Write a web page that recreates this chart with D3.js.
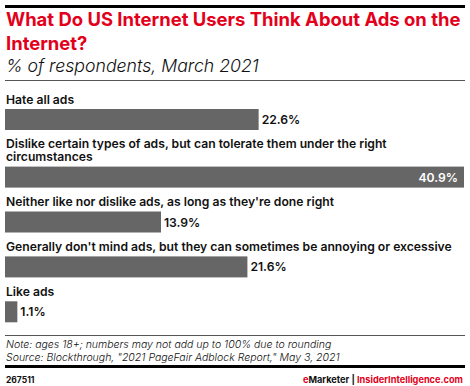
<!DOCTYPE html>
<html>
<head>
<meta charset="utf-8">
<script src="https://cdn.jsdelivr.net/npm/d3@7"></script>
<style>
  body { margin: 0; background: #fff; }
  svg { display: block; }
</style>
</head>
<body>
<div id="chart"></div>
<script>
// Data
const categories = [
    "Hate all ads",
    "Dislike certain types of ads, but can tolerate them under the right circumstances",
    "Neither like nor dislike ads, as long as they're done right",
    "Generally don't mind ads, but they can sometimes be annoying or excessive",
    "Like ads"
];
const values = [22.6, 40.9, 13.9, 21.6, 1.1];

const titleLines = ["What Do US Internet Users Think About Ads on the", "Internet?"];
const subtitle = "% of respondents, March 2021";
const notes = [
    "Note: ages 18+; numbers may not add up to 100% due to rounding",
    "Source: Blockthrough, \"2021 PageFair Adblock Report,\" May 3, 2021"
];
const chartId = "267511";

const W = 470, H = 386;
const FONT = "Inter, 'Noto Sans', sans-serif";
const RED = "#e3001b";
const LABEL_WEIGHT = 600;

const svg = d3.select("#chart").append("svg")
    .attr("width", W)
    .attr("height", H);

// pick a font size so a text string spans about the width seen in the picture
function fitSize(str, weight, style, base, target) {
    const t = svg.append("text")
        .attr("font-family", FONT)
        .attr("font-weight", weight)
        .attr("font-style", style)
        .attr("font-size", base)
        .text(str);
    const w = t.node().getComputedTextLength();
    t.remove();
    return base * target / w;
}

const titleSize = fitSize(titleLines[0], 700, "normal", 17, 455);
const subSize = fitSize(subtitle, 300, "italic", 16, 253);
const labelSize = fitSize(categories[3], LABEL_WEIGHT, "normal", 12, 446);
const noteSize = fitSize(notes[0], 300, "italic", 10, 326);

// top rule
svg.append("rect").attr("x", 5).attr("y", 5).attr("width", 460).attr("height", 3).attr("fill", "#000");

// title
svg.append("text")
    .attr("font-family", FONT)
    .attr("font-weight", 700)
    .attr("font-size", titleSize)
    .attr("fill", RED)
    .selectAll("tspan")
    .data(titleLines)
    .join("tspan")
    .attr("x", 6)
    .attr("y", (d, i) => 26 + i * 24)
    .text(d => d);

svg.append("text")
    .attr("x", 6).attr("y", 72)
    .attr("font-family", FONT)
    .attr("font-style", "italic")
    .attr("font-weight", 300)
    .attr("font-size", subSize)
    .attr("fill", "#111")
    .text(subtitle);

svg.append("line").attr("x1", 5).attr("x2", 465).attr("y1", 80.5).attr("y2", 80.5)
    .attr("stroke", "#555").attr("stroke-width", 1);

// bars
const x = d3.scaleLinear()
    .domain([0, d3.max(values)])
    .range([5, 464]);

const lineH = 12.7;
const wrapWidth = 455;

// measure text to wrap long labels
const measure = svg.append("text")
    .attr("font-family", FONT)
    .attr("font-weight", LABEL_WEIGHT)
    .attr("font-size", labelSize);

function wrap(str) {
    const words = str.split(" ");
    const lines = [];
    let cur = "";
    words.forEach(w => {
        const test = cur ? cur + " " + w : w;
        measure.text(test);
        if (measure.node().getComputedTextLength() > wrapWidth && cur) {
            lines.push(cur);
            cur = w;
        } else {
            cur = test;
        }
    });
    lines.push(cur);
    return lines;
}

const barH = 21;
let baseline = 103.5;
const rows = categories.map((c, i) => {
    const lines = wrap(c);
    const row = { name: c, value: values[i], lines: lines, y0: baseline };
    row.barY = baseline + (lines.length - 1) * lineH + 5.5;
    baseline = row.barY + barH + 18.4;
    return row;
});
measure.remove();

const rowG = svg.append("g").selectAll("g.row")
    .data(rows)
    .join("g")
    .attr("class", "row");

rowG.append("text")
    .attr("font-family", FONT)
    .attr("font-weight", LABEL_WEIGHT)
    .attr("font-size", labelSize)
    .attr("fill", "#111")
    .selectAll("tspan")
    .data(d => d.lines.map((l, i) => ({ text: l, y: d.y0 + i * lineH })))
    .join("tspan")
    .attr("x", 6)
    .attr("y", d => d.y)
    .text(d => d.text);

rowG.append("rect")
    .attr("x", x(0))
    .attr("y", d => d.barY)
    .attr("width", d => x(d.value) - x(0))
    .attr("height", barH)
    .attr("fill", "#666666");

const maxV = d3.max(values);
rowG.append("text")
    .attr("font-family", FONT)
    .attr("font-weight", LABEL_WEIGHT)
    .attr("font-size", labelSize)
    .attr("y", d => d.barY + barH / 2 + 4.5)
    .attr("x", d => d.value === maxV ? x(d.value) - 6 : x(d.value) + 3)
    .attr("text-anchor", d => d.value === maxV ? "end" : "start")
    .attr("fill", d => d.value === maxV ? "#fff" : "#111")
    .text(d => d.value.toFixed(1) + "%");

// footer
svg.append("line").attr("x1", 5).attr("x2", 465).attr("y1", 335.5).attr("y2", 335.5)
    .attr("stroke", "#555").attr("stroke-width", 1);

svg.append("text")
    .attr("font-family", FONT)
    .attr("font-style", "italic")
    .attr("font-weight", 300)
    .attr("font-size", noteSize)
    .attr("fill", "#111")
    .selectAll("tspan")
    .data(notes)
    .join("tspan")
    .attr("x", 6)
    .attr("y", (d, i) => 347.5 + i * 13)
    .text(d => d);

svg.append("rect").attr("x", 5).attr("y", 365).attr("width", 460).attr("height", 3).attr("fill", "#000");

svg.append("text")
    .attr("x", 6).attr("y", 382.5)
    .attr("font-family", FONT)
    .attr("font-weight", 700)
    .attr("font-size", 8.5)
    .attr("fill", "#111")
    .text(chartId);

const brand = svg.append("text")
    .attr("x", 463).attr("y", 382.5)
    .attr("text-anchor", "end")
    .attr("font-family", FONT)
    .attr("font-weight", 700)
    .attr("font-size", 9.2)
    .attr("fill", "#111");
brand.append("tspan").attr("fill", RED).text("e");
brand.append("tspan").text("Marketer  |  ");
brand.append("tspan").attr("fill", RED).text("InsiderIntelligence.com");
</script>
</body>
</html>
